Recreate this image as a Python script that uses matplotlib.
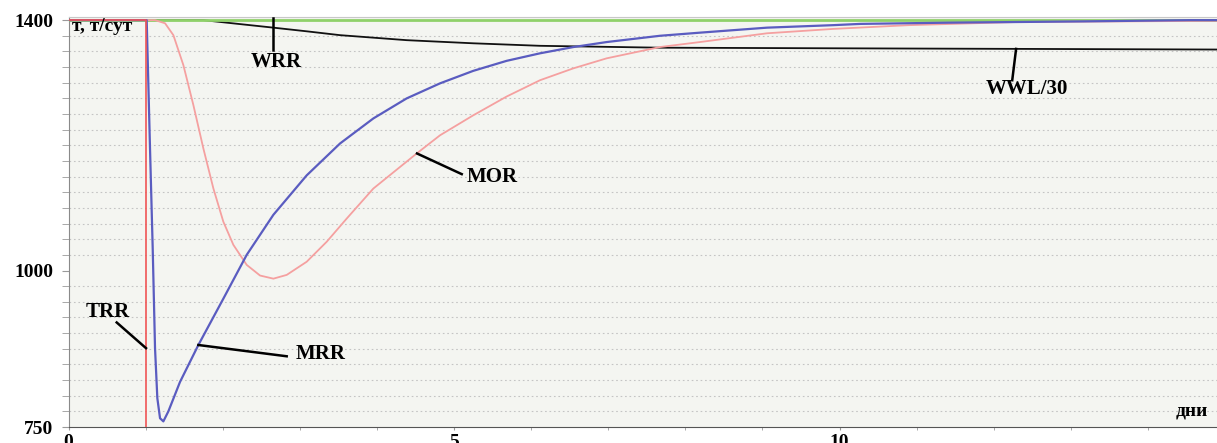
import matplotlib
matplotlib.use("Agg")
import matplotlib.pyplot as plt
from matplotlib.ticker import MultipleLocator, FixedLocator

# значения (дни, т/сут)
trr_days = [0, 1.0, 1.0]
trr = [1400, 1400, 0]

wrr_days = [0, 15]
wrr = [1400, 1400]

wwl_days = [0, 1.749, 2.2, 2.657, 3.1, 3.522, 4.386, 5.25, 6.115, 7.67, 10.0, 12.5, 15]
wwl = [1400, 1400, 1394, 1388, 1382, 1376, 1368, 1363, 1359, 1356, 1355, 1354, 1353]

mrr_days = [0, 1.0, 1.014, 1.057, 1.092, 1.122, 1.152, 1.187, 1.23, 1.295, 1.446,
            1.684, 2.008, 2.311, 2.657, 3.089, 3.522, 3.954, 4.386, 4.818, 5.25,
            5.683, 6.115, 6.548, 6.98, 7.67, 8.19, 9.06, 9.92, 10.27, 11.43,
            13.16, 14.55, 15]
mrr = [1400, 1400, 1400, 1195, 1035, 876, 796, 764, 759, 775, 822,
       881, 955, 1025, 1089, 1152, 1203, 1243, 1275, 1299, 1319,
       1335, 1347, 1357, 1365, 1375, 1380, 1388, 1392, 1394, 1396,
       1398, 1400, 1400]

mor_days = [0, 1.0, 1.122, 1.252, 1.36, 1.49, 1.62, 1.749, 1.879, 2.008, 2.138,
            2.311, 2.484, 2.657, 2.83, 3.089, 3.349, 3.608, 3.954, 4.516, 4.818,
            5.25, 5.683, 6.115, 6.548, 6.98, 7.67, 8.19, 9.06, 9.92, 10.9, 12.3, 15]
mor = [1400, 1400, 1400, 1395, 1376, 1328, 1264, 1195, 1131, 1078, 1041,
       1009, 992, 987, 993, 1014, 1046, 1083, 1131, 1187, 1216,
       1248, 1278, 1304, 1323, 1339, 1357, 1365, 1379, 1386, 1392, 1397, 1399]

y_ticks = [750, 1000, 1400]
x_ticks = [0, 5, 10, 15]

# подписи кривых: текст, точка на кривой, конец выноски, место текста, выравнивание
labels = [
    ("WRR", (2.65, 1403), (2.65, 1352), (2.69, 1333), "center"),
    ("WWL/30", (12.29, 1354), (12.24, 1304), (12.43, 1290), "center"),
    ("MOR", (4.52, 1187), (5.10, 1154), (5.16, 1150), "left"),
    ("MRR", (1.684, 881), (2.83, 863), (2.94, 867), "left"),
    ("TRR", (1.005, 876), (0.625, 917), (0.512, 933), "center"),
]

serif = ["Liberation Serif", "DejaVu Serif"]

fig = plt.figure(figsize=(12.17, 4.43), dpi=100)
ax = fig.add_axes([0.0563, 0.0361, 0.9503, 0.9255])
ax.set_facecolor("#f4f5f1")

ax.plot(wwl_days, wwl, color="#111111", lw=1.3, zorder=3)
ax.plot(wrr_days, wrr, color="#8fd16a", lw=2.0, zorder=4)
ax.plot(mor_days, mor, color="#f5a0a0", lw=1.3, zorder=5)
ax.plot(mrr_days, mrr, color="#5a5cc0", lw=1.6, zorder=6)
ax.plot(trr_days, trr, color="#f05555", lw=1.2, zorder=7)

ax.set_xlim(0, 15)
ax.set_ylim(750, 1405)

ax.yaxis.set_major_locator(FixedLocator(y_ticks))
ax.yaxis.set_minor_locator(MultipleLocator(25))
ax.xaxis.set_major_locator(FixedLocator(x_ticks))
ax.xaxis.set_minor_locator(MultipleLocator(1))
ax.grid(which="minor", axis="y", color="#c4c4c4", linestyle=(0, (1.5, 2.5)), lw=0.8)
ax.set_axisbelow(True)

ax.tick_params(axis="y", which="both", length=5, color="#9a9a9a", pad=6)
ax.tick_params(axis="x", which="both", length=2, color="#9a9a9a", pad=3)
for lab in ax.get_xticklabels() + ax.get_yticklabels():
    lab.set_family(serif)
    lab.set_fontweight("bold")
    lab.set_fontsize(14)

ax.spines["left"].set_color("#8a8a8a")
ax.spines["bottom"].set_color("#555555")
ax.spines["top"].set_color("#c8c8c8")
ax.spines["right"].set_color("#c8c8c8")

ax.text(0.003, 0.997, "т, т/сут", transform=ax.transAxes, ha="left", va="top",
        family=serif, fontweight="bold", fontsize=14, zorder=8)
ax.text(0.9853, 0.027, "дни", transform=ax.transAxes, ha="right", va="baseline",
        family=serif, fontweight="bold", fontsize=14, zorder=8)

for text, p0, p1, pt, ha in labels:
    ax.plot([p0[0], p1[0]], [p0[1], p1[1]], color="black", lw=1.8, zorder=9,
            clip_on=False)
    ax.text(pt[0], pt[1], text, ha=ha, va="center", family=serif,
            fontweight="bold", fontsize=15, zorder=9)

fig.savefig("out.png", dpi=100)
